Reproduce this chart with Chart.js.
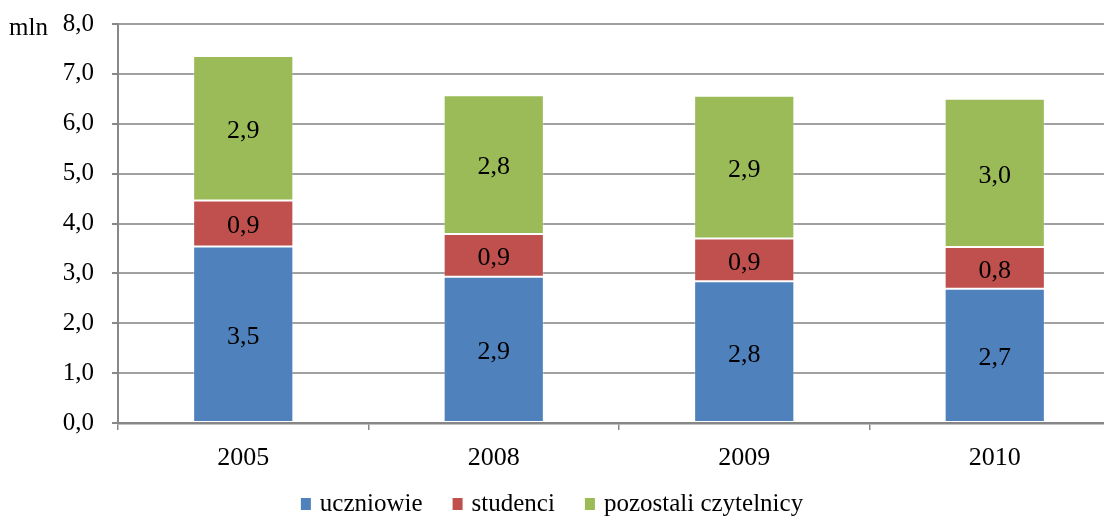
<!DOCTYPE html>
<html>
<head>
<meta charset="utf-8">
<script src="https://cdn.jsdelivr.net/npm/chart.js@4/dist/chart.umd.min.js"></script>
<style>
  html, body { margin: 0; padding: 0; background: #fff; }
  #wrap { width: 1104px; height: 516px; overflow: hidden; }
</style>
</head>
<body>
<div id="wrap"><canvas id="czytelnicy" width="1120" height="516"></canvas></div>
<script>
const lata = ["2005", "2008", "2009", "2010"];
const uczniowie = [3.54, 2.93, 2.84, 2.69];
const studenci = [0.92, 0.86, 0.86, 0.84];
const pozostali = [2.90, 2.78, 2.86, 2.97];
const nazwySerii = ["uczniowie", "studenci", "pozostali czytelnicy"];
const kolory = ["#4F81BD", "#C0504D", "#9BBB59"];
const yMax = 8;
const yStep = 1;

const FONT = "'Liberation Serif', 'Times New Roman', serif";

function fmt(v) {
  return v.toFixed(1).replace(".", ",");
}

// etykiety w slupkach, "mln" i legenda na dole
const extras = {
  id: "extras",
  afterDatasetsDraw(chart) {
    const ctx = chart.ctx;
    ctx.save();
    ctx.fillStyle = "#000";
    ctx.font = "26px " + FONT;
    ctx.textAlign = "center";
    ctx.textBaseline = "middle";
    chart.data.datasets.forEach((ds, i) => {
      const meta = chart.getDatasetMeta(i);
      meta.data.forEach((bar, j) => {
        ctx.fillText(fmt(ds.data[j]), bar.x, (bar.y + bar.base) / 2 + 3);
      });
    });

    ctx.font = "25px " + FONT;
    ctx.textAlign = "left";
    ctx.fillText("mln", 9, 28);

    // legenda
    ctx.font = "25px " + FONT;
    const box = 10, gap = 9, spacing = 30;
    const widths = nazwySerii.map(n => box + gap + ctx.measureText(n).width);
    const total = widths.reduce((a, b) => a + b, 0) + spacing * (widths.length - 1);
    let x = 552 - total / 2;
    nazwySerii.forEach((n, i) => {
      ctx.fillStyle = kolory[i];
      ctx.fillRect(x, 498, box, 12);
      ctx.fillStyle = "#000";
      ctx.fillText(n, x + box + gap, 504);
      x += widths[i] + spacing;
    });
    ctx.restore();
  }
};

const ctx = document.getElementById("czytelnicy").getContext("2d");
new Chart(ctx, {
  type: "bar",
  data: {
    labels: lata,
    datasets: [uczniowie, studenci, pozostali].map((d, i) => ({
      label: nazwySerii[i],
      data: d,
      backgroundColor: kolory[i],
      borderColor: "rgba(255,255,255,0.3)",
      borderWidth: 1,
      borderSkipped: false,
      barPercentage: 0.4,
      categoryPercentage: 1
    }))
  },
  options: {
    responsive: false,
    animation: false,
    layout: { padding: { top: 24, left: 0, right: 0, bottom: 0 } },
    plugins: {
      legend: { display: false },
      tooltip: { enabled: false }
    },
    scales: {
      x: {
        stacked: true,
        afterFit(scale) {
          scale.height = 93;
          scale.paddingLeft = 0;
          scale.paddingRight = 0;
        },
        grid: {
          drawOnChartArea: false,
          tickLength: 7,
          tickColor: "#888",
          lineWidth: 1.5
        },
        border: { color: "#868686", width: 2.5 },
        ticks: {
          color: "#000",
          padding: 13,
          font: { family: FONT, size: 26 }
        }
      },
      y: {
        stacked: true,
        min: 0,
        max: yMax,
        afterFit(scale) {
          scale.width = 118;
          scale.paddingTop = 0;
          scale.paddingBottom = 0;
        },
        grid: {
          color: "#a0a0a0",
          lineWidth: 2,
          tickLength: 6,
          tickColor: "#888"
        },
        border: { color: "#888", width: 2 },
        ticks: {
          stepSize: yStep,
          color: "#000",
          padding: 18,
          font: { family: FONT, size: 25 },
          callback: v => fmt(v)
        }
      }
    }
  },
  plugins: [extras]
});
</script>
</body>
</html>
